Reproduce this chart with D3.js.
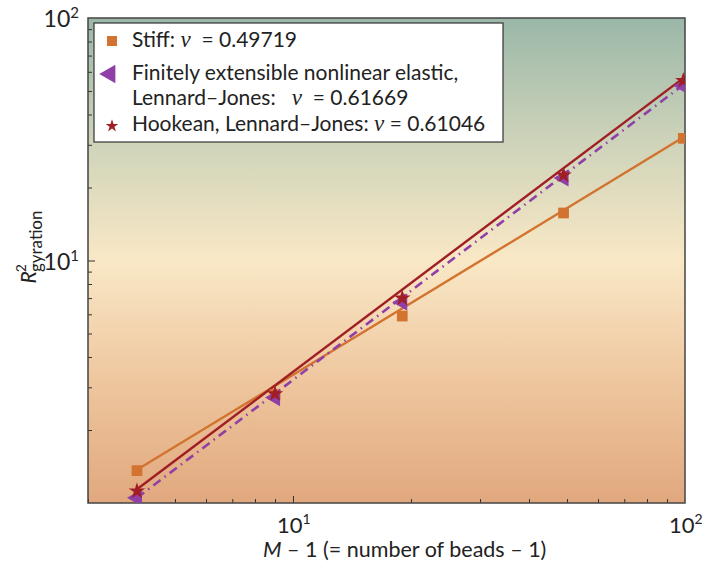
<!DOCTYPE html>
<html><head><meta charset="utf-8">
<script src="https://cdn.jsdelivr.net/npm/d3@7"></script>
<style>body{margin:0;background:#fff;} text{font-family:Lato,"Open Sans",sans-serif;}</style>
</head><body><svg id="c" width="702" height="572"></svg>
<script>
const beads = [4, 9, 19, 49, 99];
const stiff = [1.36, 2.80, 5.9, 15.7, 31.9];
const fene = [1.05, 2.72, 6.73, 21.9, 52.6];
const hookean = [1.12, 2.82, 6.99, 22.5, 55.2];
const fitX = [4, 99];
const fitStiff = [1.37, 32.2];
const fitFene = [1.05, 53.0];
const fitHookean = [1.14, 56.5];
const xTicks = [10, 100];
const yTicks = [10, 100];
const legendLabels = [["Stiff: ", "ν", "\u00a0 = 0.49719"], ["Finitely extensible nonlinear elastic,"], ["Lennard–Jones:\u00a0\u00a0 ", "ν", "\u00a0 = 0.61669"], ["Hookean, Lennard–Jones: ", "ν", " = 0.61046"]];

const svg = d3.select("#c");
const L = 88, R = 685, T = 18, B = 503;
const x = d3.scaleLog().domain([3, 100]).range([L, R]);
const y = d3.scaleLog().domain([1, 100]).range([B, T]);

const defs = svg.append("defs");
const g = defs.append("linearGradient").attr("id", "bg").attr("x1", 0).attr("x2", 0).attr("y1", 0).attr("y2", 1);
[[0, "#9ab7a8"], [0.25, "#cdd3b9"], [0.5, "#f9e8c6"], [0.75, "#eec69e"], [1, "#e1a87e"]].forEach(d => g.append("stop").attr("offset", d[0]).attr("stop-color", d[1]));
svg.append("rect").attr("x", L).attr("y", T).attr("width", R - L).attr("height", B - T).attr("fill", "url(#bg)");

// axes (inner ticks)
const minorX = d3.range(3, 10).concat(d3.range(20, 100, 10));
const minorY = d3.range(2, 10).concat(d3.range(20, 100, 10));
const xAxis = d3.axisBottom(x).tickValues(minorX.concat([10])).tickSize(-5).tickFormat("");
const gx = svg.append("g").attr("transform", `translate(0,${B})`).call(xAxis);
gx.selectAll(".tick line").attr("y2", d => xTicks.includes(d) ? -7 : -4);
const yAxis = d3.axisLeft(y).tickValues(minorY.concat([10])).tickSize(-5).tickFormat("");
const gy = svg.append("g").attr("transform", `translate(${L},0)`).call(yAxis);
gy.selectAll(".tick line").attr("x2", d => yTicks.includes(d) ? 7 : 4);
svg.selectAll(".domain").remove();
svg.selectAll(".tick line").attr("stroke", "#333").attr("stroke-width", 1);
svg.append("rect").attr("x", L).attr("y", T).attr("width", R - L).attr("height", B - T).attr("fill", "none").attr("stroke", "#444").attr("stroke-width", 1.5);

// tick labels
xTicks.forEach(v => {
  const t = svg.append("text").attr("x", x(v) - 16).attr("y", 533).attr("font-size", 22).attr("fill", "#222");
  t.append("tspan").text("10");
  t.append("tspan").attr("dy", -9).attr("font-size", 14).text(Math.round(Math.log10(v)));
});
yTicks.forEach(v => {
  const t = svg.append("text").attr("x", 79).attr("y", y(v) + 9).attr("text-anchor", "end").attr("font-size", 23).attr("fill", "#222");
  t.append("tspan").text("10");
  t.append("tspan").attr("dy", -9).attr("font-size", 15).text(Math.round(Math.log10(v)));
});

// axis titles
const xt = svg.append("text").attr("x", 263).attr("y", 557).attr("font-size", 21.5).attr("fill", "#222");
xt.append("tspan").attr("font-style", "italic").text("M");
xt.append("tspan").text(" – 1 (= number of beads – 1)");
const yt = svg.append("text").attr("transform", `translate(36,247) rotate(-90)`).attr("text-anchor", "middle").attr("font-size", 21).attr("fill", "#222");
yt.append("tspan").attr("font-style", "italic").text("R");
yt.append("tspan").attr("dy", -10).attr("dx", -1).attr("font-size", 14).text("2");
yt.append("tspan").attr("dy", 16).attr("dx", -8).attr("font-size", 17).text("gyration");

// fit lines
const line = d3.line().x(d => x(d[0])).y(d => y(d[1]));
defs.append("clipPath").attr("id", "pc").append("rect").attr("x", L).attr("y", T).attr("width", R - L).attr("height", B - T);
const plot = svg.append("g").attr("clip-path", "url(#pc)");
plot.append("path").datum(fitX.map((v, i) => [v, fitStiff[i]])).attr("d", line).attr("fill", "none").attr("stroke", "#d2732f").attr("stroke-width", 2.4);
plot.append("path").datum(fitX.map((v, i) => [v, fitFene[i]])).attr("d", line).attr("fill", "none").attr("stroke", "#8f3fa6").attr("stroke-width", 2.6).attr("stroke-dasharray", "9,5,1.5,5");
plot.append("path").datum(fitX.map((v, i) => [v, fitHookean[i]])).attr("d", line).attr("fill", "none").attr("stroke", "#a01e24").attr("stroke-width", 2.4);

// markers
const sq = d3.symbol().type(d3.symbolSquare).size(115);
const star = d3.symbol().type(d3.symbolStar).size(85);
const tri = d3.symbol().type(d3.symbolTriangle).size(130);
plot.selectAll(".s").data(beads.map((v, i) => [v, stiff[i]])).join("path").attr("d", sq).attr("transform", d => `translate(${x(d[0])},${y(d[1])})`).attr("fill", "#d2732f");
plot.selectAll(".f").data(beads.map((v, i) => [v, fene[i]])).join("path").attr("d", tri).attr("transform", d => `translate(${x(d[0])},${y(d[1])}) rotate(-90)`).attr("fill", "#8f3fa6");
plot.selectAll(".h").data(beads.map((v, i) => [v, hookean[i]])).join("path").attr("d", star).attr("transform", d => `translate(${x(d[0])},${y(d[1])})`).attr("fill", "#a01e24");

// legend
svg.append("rect").attr("x", 94).attr("y", 23).attr("width", 409).attr("height", 119).attr("fill", "#fff").attr("stroke", "#333").attr("stroke-width", 1.2);
svg.append("path").attr("d", d3.symbol().type(d3.symbolSquare).size(100)).attr("transform", "translate(112,41)").attr("fill", "#d2732f");
svg.append("path").attr("d", d3.symbol().type(d3.symbolTriangle).size(150)).attr("transform", "translate(110,74) rotate(-90)").attr("fill", "#8f3fa6");
svg.append("path").attr("d", d3.symbol().type(d3.symbolStar).size(50)).attr("transform", "translate(112,126)").attr("fill", "#a01e24");
const ly = [47, 80, 105, 131];
legendLabels.forEach((parts, i) => {
  const t = svg.append("text").attr("x", 132).attr("y", ly[i]).attr("font-size", 21).attr("fill", "#222");
  parts.forEach(p => {
    const s = t.append("tspan").text(p);
    if (p === "ν") s.attr("font-family", "Liberation Serif").attr("font-style", "italic").attr("font-size", 23);
  });
});
</script></body></html>
